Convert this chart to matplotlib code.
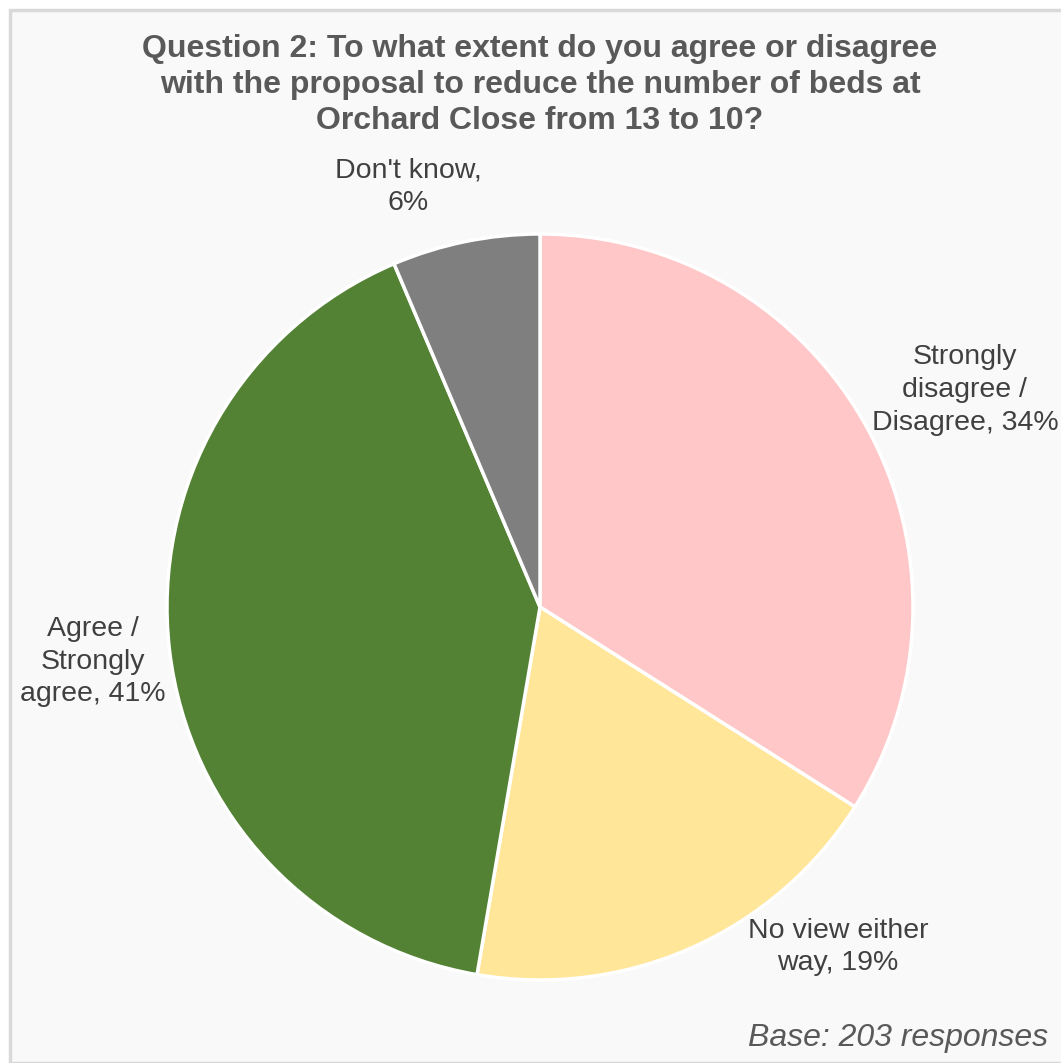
import matplotlib.pyplot as plt
from matplotlib.patches import Rectangle

# Data
categories = ["Strongly\ndisagree /\nDisagree, 34%", "No view either\nway, 19%",
              "Agree /\nStrongly\nagree, 41%", "Don't know,\n6%"]
values = [34.0, 18.7, 40.9, 6.4]
colors = ["#FFC7C7", "#FFE699", "#548235", "#7F7F7F"]
# label positions in pie-radius units
label_pos = [(1.139, 0.582), (0.799, -0.912), (-1.198, -0.147), (-0.354, 1.126)]

plt.rcParams['font.family'] = ['Liberation Sans', 'DejaVu Sans']

W, H = 1061, 1063
fig = plt.figure(figsize=(W / 100, H / 100), dpi=100)
fig.patch.set_facecolor("white")

# chart area background with border
fig.patches.append(Rectangle((10 / W, 0), 1.2, (H - 10) / H, transform=fig.transFigure,
                             facecolor="#F9F9F9", edgecolor="#D9D9D9", linewidth=2.5, zorder=-1))

cx, cy, r = 540, 607, 373
ax = fig.add_axes([(cx - r) / W, (H - cy - r) / H, 2 * r / W, 2 * r / H])
ax.set_xlim(-1, 1)
ax.set_ylim(-1, 1)
ax.set_aspect("equal")
ax.axis("off")

ax.pie(values, colors=colors, startangle=90, counterclock=False, radius=1,
       wedgeprops=dict(edgecolor="white", linewidth=2.5))
ax.set_xlim(-1, 1)
ax.set_ylim(-1, 1)

for lab, (x, y) in zip(categories, label_pos):
    ax.text(x, y, lab, ha="center", va="center", fontsize=20.5, color="#404040",
            linespacing=1.33, clip_on=False)

fig.text(540 / W, 1 - 85 / H,
         "Question 2: To what extent do you agree or disagree\n"
         "with the proposal to reduce the number of beds at\n"
         "Orchard Close from 13 to 10?",
         ha="center", va="center", fontsize=23, fontweight="bold", color="#595959",
         linespacing=1.27)

fig.text(1048 / W, 1 - 1038 / H, "Base: 203 responses", ha="right", va="center",
         fontsize=23, style="italic", color="#595959")

fig.savefig("out.png", dpi=100)
